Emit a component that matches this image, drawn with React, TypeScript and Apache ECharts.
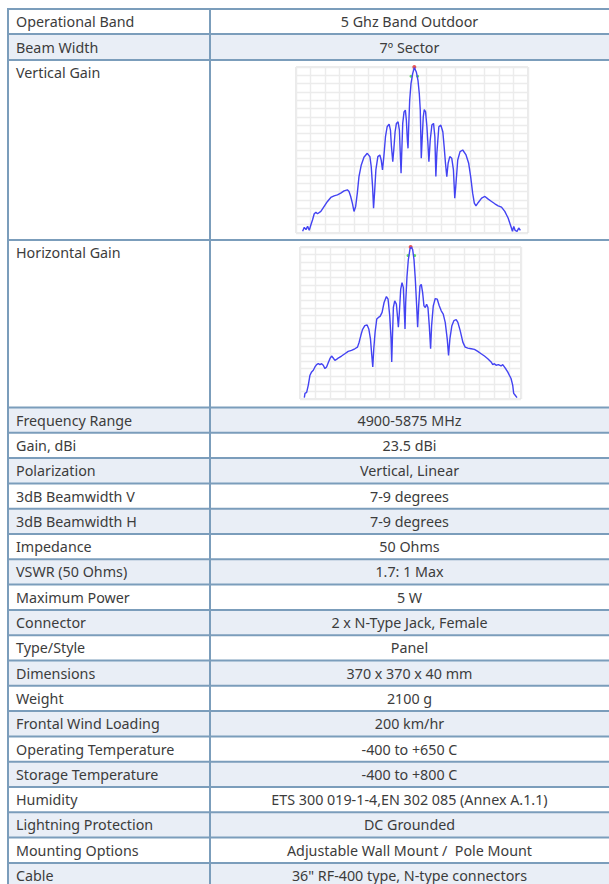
import { useEffect, useRef } from "react";
import * as echarts from "echarts";

const specLabels = [
  "Operational Band", "Beam Width", "Vertical Gain", "Horizontal Gain", "Frequency Range",
  "Gain, dBi", "Polarization", "3dB Beamwidth V", "3dB Beamwidth H", "Impedance",
  "VSWR (50 Ohms)", "Maximum Power", "Connector", "Type/Style", "Dimensions", "Weight",
  "Frontal Wind Loading", "Operating Temperature", "Storage Temperature", "Humidity",
  "Lightning Protection", "Mounting Options", "Cable",
];
const specValues = [
  "5 Ghz Band Outdoor", "7º Sector", "", "", "4900-5875 MHz",
  "23.5 dBi", "Vertical, Linear", "7-9 degrees", "7-9 degrees", "50 Ohms",
  "1.7: 1 Max", "5 W", "2 x N-Type Jack, Female", "Panel", "370 x 370 x 40 mm", "2100 g",
  "200 km/hr", "-400 to +650 C", "-400 to +800 C", "ETS 300 019-1-4,EN 302 085 (Annex A.1.1)",
  "DC Grounded", "Adjustable Wall Mount /  Pole Mount", "36\" RF-400 type, N-type connectors",
];

// Vertical gain pattern (angle in degrees, gain in dB)
const vAngle = [
  -33, -32.5, -32, -31.5, -31, -30.5, -30, -29.5, -29, -28.5, -27.5, -26.5, -25.5, -24.5, -23.5,
  -22.5, -21.5, -20.5, -19.5, -19, -18.5, -18, -17.5, -17, -16.5, -16, -15.3, -14.5, -13.5, -12.7,
  -12.3, -11.9, -11.6, -11.3, -10.9, -10.3, -9.7, -9.3, -8.9, -8.5, -8, -7.5, -6.9, -6.5, -6.2,
  -5.8, -5.5, -5.1, -4.7, -4.2, -3.8, -3.5, -3.3, -3.1, -2.8, -2.4, -2, -1.7, -1.4, -1.2,
  -1, -0.7, -0.3, 0.2, 0.7, 1.3, 1.8, 2.2, 2.5, 2.8, 3.1, 3.4, 3.7, 4.1, 4.5,
  4.8, 5.1, 5.5, 6, 6.5, 6.9, 7.2, 7.5, 8.1, 8.7, 9.3, 9.7, 10.1, 10.5, 10.9,
  11.4, 12, 12.5, 12.9, 13.2, 13.8, 14.5, 15.3, 16.3, 17.1, 17.7, 18.3, 18.8, 19.3, 20,
  21, 22, 23, 24, 25, 26, 27, 28, 28.5, 29, 29.5, 30, 30.3, 30.7, 31.1,
  31.7, 32.2, 32.7,
];
const vGain = [
  -49.5, -48.3, -49, -48, -49.2, -47.5, -46, -44.2, -43.8, -44.2, -43.5, -42, -40.5, -39.3, -38.8,
  -38.5, -38, -37.3, -37, -37.5, -39, -41, -43.5, -42, -38, -33, -29.5, -27.2, -26, -27,
  -30, -36, -42.5, -38, -31, -27, -26.5, -28, -31, -27, -21, -18, -17.2, -19, -24,
  -28.5, -25, -19.5, -17, -16.5, -19, -27, -32, -26, -17, -13.5, -13, -16, -22, -24.5,
  -18, -10, -5, -2, -0.2, -1.5, -4, -8, -13, -27.5, -21, -15, -12.8, -13.5, -18,
  -23, -28.5, -22, -17.5, -17, -21, -33, -26, -18, -17.5, -19.5, -24, -29, -33, -29,
  -27, -27.5, -31, -39.5, -36, -28, -25.5, -25, -26.5, -29, -33, -38, -41, -41.8, -40.8,
  -39.5, -39, -39.8, -40.5, -41.2, -41.8, -42.2, -43.5, -44.5, -45.5, -47, -48.5, -49.5, -48, -49.2,
  -49.5, -48.5, -49.2,
];
const vPeak = [[0.7, 0]];
const vHalfPower = [[-0.3, -2.8], [1.7, -2.8]];

// Horizontal gain pattern (angle in degrees, gain in dB)
const hAngle = [
  -32.2, -32, -31.5, -31, -30.5, -30, -29.5, -29, -28.5, -28, -27.5, -27, -26.5, -26, -25.5,
  -25, -24.5, -24, -23.5, -23, -22.5, -22, -21, -20, -19, -18, -17, -16.2, -15.7, -15.2,
  -14.7, -14, -13.3, -12.8, -12.3, -11.9, -11.6, -11.3, -10.9, -10.4, -9.9, -9.4, -8.8, -8.2, -7.5,
  -7, -6.5, -6.1, -5.9, -5.7, -5.4, -5, -4.5, -4.1, -3.9, -3.6, -3.2, -2.8, -2.4, -2.1,
  -1.9, -1.7, -1.3, -0.9, -0.4, 0, 0.4, 0.8, 1.2, 1.6, 1.9, 2.2, 2.6, 3, 3.4,
  3.8, 4.2, 4.6, 5, 5.4, 5.8, 6.1, 6.6, 7.2, 7.8, 8.4, 9, 9.6, 10.2, 10.8,
  11.2, 11.6, 12.2, 12.8, 13.5, 14, 14.7, 15.5, 16.2, 17, 18, 19, 20, 21, 22,
  23, 24, 24.5, 25, 25.5, 26.2, 27, 27.5, 28, 28.5, 29, 29.5, 30, 30.5, 30.8,
  31.2, 31.8,
];
const hGain = [
  -45.6, -44.3, -44, -41.8, -38.8, -37.8, -37.3, -36.3, -35.6, -35.3, -35.6, -35.3, -35.8, -36.8, -36.3,
  -35, -33.8, -33, -33.6, -34.3, -34, -33.6, -33, -32.3, -31.6, -31.3, -30.8, -30.3, -28.8, -26.8,
  -25, -23.8, -23.6, -24.8, -27.8, -32.8, -36.3, -30.8, -25.8, -21.8, -21.3, -21, -19.8, -16.8, -15,
  -15.8, -20.8, -27.8, -34.8, -27.8, -18.3, -16.3, -17.3, -21.8, -24.3, -19.8, -12.8, -10.8, -12.3, -19.8,
  -24.8, -16.8, -8.8, -3.8, -0.6, 0, -0.8, -3.8, -9.8, -17.8, -24.3, -17.8, -11.8, -11.3, -13.8,
  -17.8, -18.3, -17.3, -18.3, -23.8, -30.8, -23.8, -17.8, -15.6, -15.8, -17.8, -19.3, -20.3, -22.8, -27.8,
  -32.8, -27.8, -23.8, -22.3, -22, -22.8, -25.3, -28.8, -30.3, -30.6, -30.8, -31, -31.6, -32.3, -33,
  -33.8, -34.8, -35.6, -35.3, -35.8, -35.6, -36, -35.6, -36.3, -37, -37.8, -38.8, -39.8, -41.8, -44.3,
  -44.8, -45.6,
];
const hPeak = [[-0.2, 0]];
const hHalfPower = [[-1, -2.6], [1, -2.6]];

const FONT = '14.3px "Noto Sans", sans-serif';
const TEXT_COLOR = "#3c3c3c";
const BORDER = "#7b9dbb";
const SHADE = "#e9eef6";

function pairs(xs: number[], ys: number[]) {
  return xs.map((x, i) => [x, ys[i]]);
}

export default function App() {
  const ref = useRef<HTMLDivElement>(null);

  useEffect(() => {
    document.body.style.margin = "0";
    const chart = echarts.init(ref.current!, null, { renderer: "svg" });

    // table geometry
    const left = 8;
    const split = 210;
    const right = 609;
    const heights = [25, 26, 180, 167.5];
    while (heights.length < specLabels.length) heights.push(25.3);
    const tops: number[] = [];
    let y = 9;
    heights.forEach((h) => {
      tops.push(y);
      y += h;
    });

    const graphics: any[] = [];
    specLabels.forEach((label, i) => {
      const top = tops[i];
      const h = heights[i];
      const shaded = i === 1 || (i >= 4 && i % 2 === 0);
      if (shaded) {
        graphics.push({
          type: "rect",
          shape: { x: left, y: top, width: right - left, height: h },
          style: { fill: SHADE },
          silent: true,
          z: 0,
        });
      }
      const isChartRow = i === 2 || i === 3;
      const ty = isChartRow ? top + 12 : top + h / 2;
      graphics.push({
        type: "text",
        style: {
          text: label,
          x: 16,
          y: ty,
          font: FONT,
          fill: TEXT_COLOR,
          textAlign: "left",
          textVerticalAlign: "middle",
        },
        z: 2,
      });
      if (specValues[i]) {
        graphics.push({
          type: "text",
          style: {
            text: specValues[i],
            x: (split + right) / 2,
            y: ty,
            font: FONT,
            fill: TEXT_COLOR,
            textAlign: "center",
            textVerticalAlign: "middle",
          },
          z: 2,
        });
      }
    });
    [...tops, y].forEach((ly) => {
      graphics.push({
        type: "line",
        shape: { x1: left - 1, y1: ly, x2: right, y2: ly },
        style: { stroke: BORDER, lineWidth: 2 },
        silent: true,
        z: 1,
      });
    });
    [left, split].forEach((lx) => {
      graphics.push({
        type: "line",
        shape: { x1: lx, y1: 8, x2: lx, y2: 884 },
        style: { stroke: BORDER, lineWidth: 2 },
        silent: true,
        z: 1,
      });
    });

    const splitLine = { show: true, lineStyle: { color: "#ececec", width: 1.4 } };
    const hidden = {
      axisLabel: { show: false },
      axisLine: { show: false },
      axisTick: { show: false },
      splitLine,
    };
    const lineStyle = { color: "#4343f2", width: 1.4 };

    chart.setOption({
      animation: false,
      backgroundColor: "#ffffff",
      grid: [
        { left: 296, top: 67, width: 232, height: 166, show: true, borderColor: "#d8d8d8", borderWidth: 1 },
        { left: 300, top: 247, width: 221, height: 152, show: true, borderColor: "#d8d8d8", borderWidth: 1 },
      ],
      xAxis: [
        { type: "value", gridIndex: 0, min: -35, max: 35, interval: 4.375, ...hidden },
        { type: "value", gridIndex: 1, min: -33.5, max: 33, interval: 4.5, ...hidden },
      ],
      yAxis: [
        { type: "value", gridIndex: 0, min: -50, max: 0, interval: 2.5, ...hidden },
        { type: "value", gridIndex: 1, min: -46, max: 0, interval: 2.3, ...hidden },
      ],
      series: [
        {
          type: "line", xAxisIndex: 0, yAxisIndex: 0, data: pairs(vAngle, vGain),
          showSymbol: false, lineStyle, silent: true,
        },
        {
          type: "scatter", xAxisIndex: 0, yAxisIndex: 0, data: vHalfPower,
          symbolSize: 3, itemStyle: { color: "#3fd43f" }, silent: true,
        },
        {
          type: "scatter", xAxisIndex: 0, yAxisIndex: 0, data: vPeak,
          symbolSize: 4, itemStyle: { color: "#e03030" }, silent: true,
        },
        {
          type: "line", xAxisIndex: 1, yAxisIndex: 1, data: pairs(hAngle, hGain),
          showSymbol: false, lineStyle, silent: true,
        },
        {
          type: "scatter", xAxisIndex: 1, yAxisIndex: 1, data: hHalfPower,
          symbolSize: 3, itemStyle: { color: "#3fd43f" }, silent: true,
        },
        {
          type: "scatter", xAxisIndex: 1, yAxisIndex: 1, data: hPeak,
          symbolSize: 4, itemStyle: { color: "#e03030" }, silent: true,
        },
      ],
      graphic: graphics,
    });

    return () => chart.dispose();
  }, []);

  return (
    <div
      ref={ref}
      style={{ position: "absolute", left: 0, top: 0, width: 609, height: 884 }}
    />
  );
}
